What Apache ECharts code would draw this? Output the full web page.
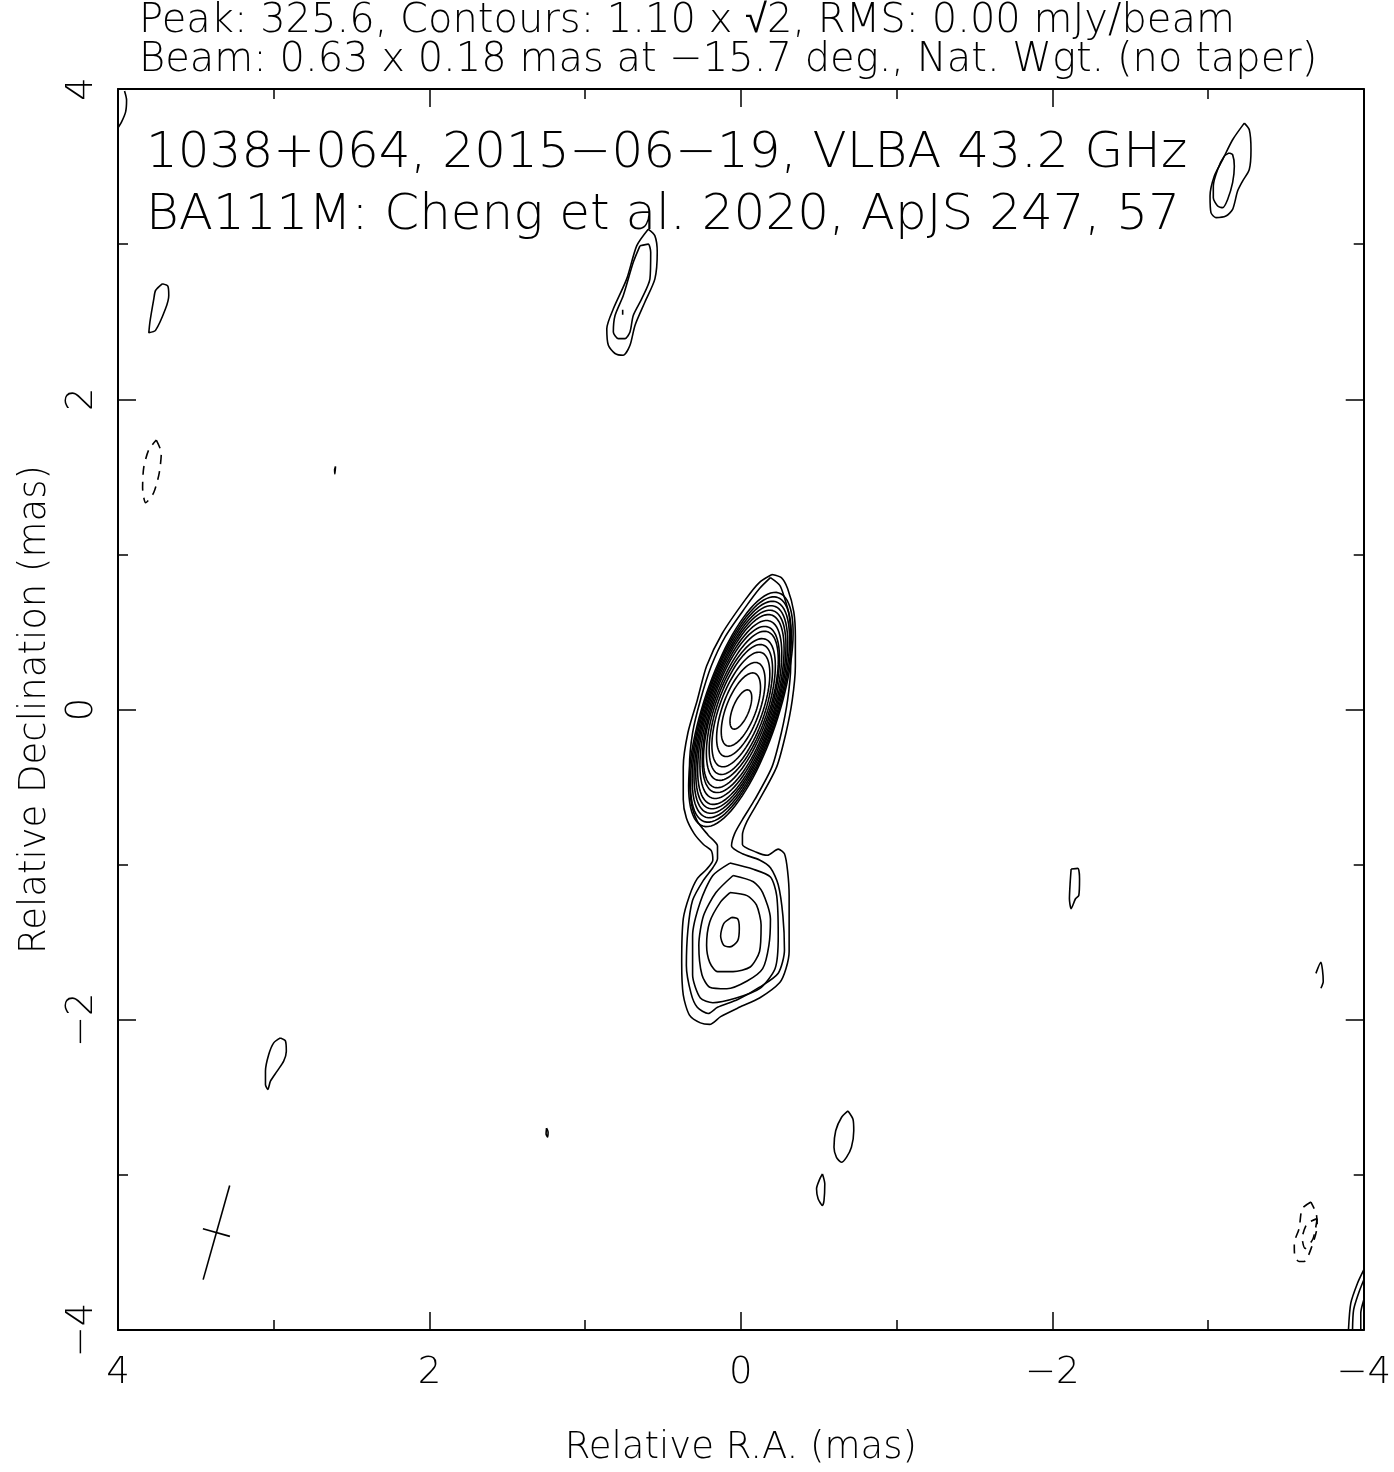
<!DOCTYPE html>
<html><head><meta charset="utf-8">
<script src="https://cdn.jsdelivr.net/npm/echarts@6/dist/echarts.min.js"></script>
<style>html,body{margin:0;padding:0;background:#fff}#c{width:1394px;height:1472px}</style>
</head><body><div id="c"></div>
<script>
// ---- data (mas) ----
const axisTicks = [4, 2, 0, -2, -4];
const headerLines = [
  'Peak: 325.6, Contours: 1.10 x \u221A2, RMS: 0.00 mJy/beam',
  'Beam: 0.63 x 0.18 mas at \u221215.7 deg., Nat. Wgt. (no taper)'
];
const labelLines = [
  '1038+064, 2015\u221206\u221219, VLBA 43.2 GHz',
  'BA111M: Cheng et al. 2020, ApJS 247, 57'
];
// beam: [centerRA, centerDec, major, minor, PA]
const beam = [[3.368, -3.372, 0.63, 0.18, -15.7]];
// nested closed rings of the core: [cx, cy, semiMajor, semiMinor, PA]
const coreRings = [
  [0, 0, 0.135, 0.052, -22],
  [0, 0, 0.25, 0.095, -21],
  [0, 0, 0.32, 0.118, -20],
  [0, 0, 0.39, 0.138, -20],
  [0, 0, 0.44, 0.153, -19],
  [0, 0, 0.48, 0.166, -19],
  [0, 0, 0.53, 0.177, -19],
  [0, 0, 0.56, 0.187, -18],
  [0, 0, 0.60, 0.196, -18],
  [0, 0, 0.64, 0.205, -18],
  [0, 0, 0.67, 0.213, -18],
  [0, 0, 0.70, 0.220, -18],
  [0, 0, 0.73, 0.228, -18],
  [0, 0, 0.76, 0.235, -18],
  [0, 0, 0.79, 0.242, -18]
];
// lowest two levels enclosing core + southern component
const mergedOuter = [[-0.20,0.87],[-0.26,0.85],[-0.30,0.78],[-0.34,0.63],[-0.35,0.47],[-0.35,0.28],[-0.33,0.06],[-0.29,-0.15],[-0.23,-0.37],[-0.12,-0.58],[-0.04,-0.72],[-0.01,-0.81],[-0.01,-0.87],[-0.10,-0.92],[-0.17,-0.94],[-0.24,-0.90],[-0.28,-0.93],[-0.30,-1.04],[-0.31,-1.20],[-0.31,-1.56],[-0.29,-1.67],[-0.25,-1.76],[-0.12,-1.86],[0.01,-1.92],[0.13,-1.98],[0.20,-2.03],[0.26,-2.02],[0.33,-1.97],[0.37,-1.84],[0.38,-1.63],[0.37,-1.35],[0.33,-1.20],[0.28,-1.09],[0.22,-1.03],[0.18,-0.97],[0.19,-0.91],[0.24,-0.87],[0.30,-0.80],[0.35,-0.70],[0.37,-0.58],[0.37,-0.37],[0.34,-0.15],[0.28,0.06],[0.22,0.28],[0.12,0.49],[-0.03,0.71],[-0.12,0.82],[-0.20,0.87]];
const mergedInner = [[-0.19,0.85],[-0.25,0.80],[-0.28,0.72],[-0.31,0.61],[-0.32,0.46],[-0.32,0.28],[-0.30,0.06],[-0.26,-0.15],[-0.20,-0.37],[-0.09,-0.58],[-0.01,-0.71],[0.04,-0.80],[0.06,-0.88],[-0.01,-0.93],[-0.12,-0.97],[-0.19,-1.02],[-0.24,-1.13],[-0.27,-1.33],[-0.28,-1.55],[-0.24,-1.70],[-0.12,-1.79],[0.02,-1.87],[0.15,-1.92],[0.21,-1.96],[0.28,-1.92],[0.32,-1.83],[0.35,-1.65],[0.34,-1.42],[0.31,-1.23],[0.24,-1.10],[0.18,-1.02],[0.15,-0.96],[0.15,-0.88],[0.21,-0.81],[0.28,-0.72],[0.32,-0.59],[0.33,-0.37],[0.31,-0.15],[0.26,0.06],[0.19,0.28],[0.10,0.47],[-0.03,0.66],[-0.12,0.78],[-0.19,0.85]];
// closed rings of the southern component
const southRing1 = [[0.07,-0.99],[-0.08,-1.03],[-0.19,-1.08],[-0.23,-1.20],[-0.24,-1.46],[-0.22,-1.67],[-0.12,-1.80],[0.03,-1.86],[0.18,-1.89],[0.26,-1.86],[0.31,-1.71],[0.31,-1.46],[0.26,-1.24],[0.18,-1.07],[0.07,-0.99]];
const southRing2 = [[0.05,-1.07],[-0.08,-1.11],[-0.14,-1.18],[-0.19,-1.35],[-0.18,-1.52],[-0.14,-1.67],[-0.04,-1.75],[0.09,-1.80],[0.20,-1.79],[0.25,-1.71],[0.27,-1.52],[0.24,-1.33],[0.16,-1.18],[0.05,-1.07]];
const southRing3 = [[0.07,-1.18],[-0.04,-1.20],[-0.10,-1.26],[-0.13,-1.39],[-0.12,-1.56],[-0.06,-1.66],[0.05,-1.69],[0.15,-1.69],[0.20,-1.63],[0.22,-1.52],[0.20,-1.37],[0.13,-1.24],[0.07,-1.18]];
const southRing4 = [[0.06,-1.34],[0.02,-1.35],[0.01,-1.41],[0.02,-1.49],[0.07,-1.53],[0.11,-1.52],[0.13,-1.46],[0.11,-1.38],[0.06,-1.34]];
// isolated positive contours
const cornerTopLeft = [[3.958,3.987],[3.945,3.929],[3.951,3.853],[3.977,3.788],[4.0,3.75]];
const blobLeft = [[3.716,2.744],[3.680,2.729],[3.674,2.669],[3.695,2.583],[3.759,2.444],[3.802,2.429],[3.795,2.498],[3.770,2.647],[3.759,2.701],[3.716,2.744]];
const tinyLeft = [[2.603,1.567],[2.607,1.519],[2.609,1.545],[2.603,1.567]];
const northOuter = [[0.595,3.096],[0.552,3.053],[0.537,2.947],[0.552,2.776],[0.616,2.627],[0.680,2.476],[0.712,2.348],[0.755,2.284],[0.808,2.295],[0.851,2.348],[0.861,2.455],[0.819,2.583],[0.733,2.776],[0.669,2.989],[0.595,3.096]];
const northInner = [[0.648,2.989],[0.595,3.0],[0.579,2.947],[0.584,2.776],[0.637,2.647],[0.691,2.540],[0.712,2.434],[0.744,2.391],[0.787,2.391],[0.819,2.434],[0.808,2.540],[0.755,2.669],[0.691,2.883],[0.648,2.989]];
const northDot = [[0.759,2.577],[0.759,2.545]];
const topRightOuter = [[-3.233,3.780],[-3.265,3.737],[-3.276,3.609],[-3.265,3.481],[-3.222,3.406],[-3.190,3.342],[-3.158,3.224],[-3.115,3.181],[-3.051,3.171],[-3.019,3.203],[-3.013,3.310],[-3.040,3.438],[-3.094,3.545],[-3.158,3.673],[-3.233,3.780]];
const topRightInner = [[-3.137,3.588],[-3.158,3.577],[-3.169,3.502],[-3.158,3.396],[-3.126,3.288],[-3.094,3.235],[-3.062,3.246],[-3.034,3.299],[-3.034,3.374],[-3.062,3.481],[-3.104,3.566],[-3.137,3.588]];
const blobLowLeft = [[2.957,-2.117],[2.925,-2.136],[2.919,-2.203],[2.936,-2.267],[2.978,-2.331],[3.021,-2.396],[3.038,-2.449],[3.053,-2.417],[3.053,-2.331],[3.032,-2.224],[3.0,-2.149],[2.957,-2.117]];
const tinyLow = [[1.248,-2.699],[1.238,-2.724],[1.241,-2.756],[1.251,-2.737],[1.248,-2.699]];
const blobLowMid = [[-0.688,-2.588],[-0.720,-2.641],[-0.725,-2.716],[-0.710,-2.822],[-0.678,-2.887],[-0.646,-2.919],[-0.614,-2.887],[-0.598,-2.822],[-0.609,-2.716],[-0.646,-2.630],[-0.688,-2.588]];
const smallLowMid = [[-0.524,-2.994],[-0.539,-3.058],[-0.534,-3.165],[-0.524,-3.197],[-0.496,-3.154],[-0.486,-3.090],[-0.507,-3.026],[-0.524,-2.994]];
const blobRight = [[-2.121,-1.028],[-2.164,-1.024],[-2.175,-1.092],[-2.170,-1.199],[-2.149,-1.220],[-2.121,-1.284],[-2.110,-1.220],[-2.115,-1.113],[-2.121,-1.028]];
const hookRight = [[-3.693,-1.701],[-3.725,-1.630],[-3.735,-1.679],[-3.740,-1.754],[-3.725,-1.797]];
const cornerBR1 = [[-4.0,-3.613],[-3.960,-3.699],[-3.917,-3.827],[-3.902,-3.998]];
const cornerBR2 = [[-4.0,-3.678],[-3.967,-3.763],[-3.935,-3.870],[-3.928,-3.998]];
const cornerBR3 = [[-4.0,-3.806],[-3.981,-3.891],[-3.981,-3.998]];
// negative (dashed) contours
const negLeft = [[3.754,1.737],[3.722,1.654],[3.735,1.526],[3.771,1.397],[3.822,1.333],[3.842,1.429],[3.835,1.558],[3.803,1.673],[3.754,1.737]];
const negRightOuter = [[-3.661,-3.175],[-3.605,-3.218],[-3.585,-3.346],[-3.554,-3.442],[-3.557,-3.526],[-3.585,-3.558],[-3.618,-3.558],[-3.669,-3.455],[-3.701,-3.327],[-3.695,-3.250],[-3.661,-3.175]];
const negRightInner = [[-3.701,-3.282],[-3.675,-3.410],[-3.624,-3.474],[-3.605,-3.410],[-3.637,-3.314],[-3.701,-3.282]];

const positiveLines = [mergedOuter, mergedInner, southRing1, southRing2, southRing3, southRing4,
  cornerTopLeft, blobLeft, tinyLeft, northOuter, northInner, northDot, topRightOuter, topRightInner,
  blobLowLeft, tinyLow, blobLowMid, smallLowMid, blobRight, hookRight, cornerBR1, cornerBR2, cornerBR3];
const negativeLines = [negLeft, negRightOuter, negRightInner];

// ---- chart ----
const FONT = "'DejaVu Sans', sans-serif";
const INK = '#000';
const fmt = v => String(v).replace('-', '\u2212');
const LW = 1.6;

function lineSeries(data, dashed) {
  return {
    type: 'line', data: data, xAxisIndex: 0, yAxisIndex: 0,
    showSymbol: false, symbol: 'none', smooth: 0.25, silent: true, animation: false, clip: true,
    lineStyle: { color: INK, width: LW, type: dashed ? [9, 7] : 'solid' }, z: 3
  };
}

function axisCommon(pos, labels, isY) {
  return {
    type: 'value', position: pos, min: -4, max: 4, interval: 2,
    inverse: !isY,
    axisLine: { show: true, onZero: false, lineStyle: { color: INK, width: 2 } },
    axisTick: { show: true, inside: true, length: 18, lineStyle: { color: INK, width: 1.5 } },
    minorTick: { show: true, splitNumber: 2, length: 10, lineStyle: { color: INK, width: 1.5 } },
    splitLine: { show: false }, minorSplitLine: { show: false },
    axisLabel: labels ? {
      show: true, formatter: fmt, color: INK, fontFamily: FONT, fontWeight: 300, fontSize: 37,
      margin: isY ? 17 : 25, rotate: isY ? 90 : 0
    } : { show: false }
  };
}

const xBottom = axisCommon('bottom', true, false);
xBottom.name = 'Relative R.A. (mas)';
xBottom.nameLocation = 'middle';
xBottom.nameGap = 100;
xBottom.nameTextStyle = { fontFamily: FONT, fontWeight: 300, fontSize: 37, color: INK };
const yLeft = axisCommon('left', true, true);
yLeft.name = 'Relative Declination (mas)';
yLeft.nameLocation = 'middle';
yLeft.nameGap = 64;
yLeft.nameTextStyle = { fontFamily: FONT, fontWeight: 300, fontSize: 37, color: INK };

const series = [];
series.push({
  type: 'custom', data: coreRings, xAxisIndex: 0, yAxisIndex: 0, silent: true, animation: false, clip: true, z: 3,
  renderItem: function (params, api) {
    const cx = api.value(0), cy = api.value(1), a = api.value(2), b = api.value(3), pa = api.value(4) * Math.PI / 180;
    const ux = Math.sin(pa), uy = Math.cos(pa), vx = Math.cos(pa), vy = -Math.sin(pa);
    const pts = [];
    for (let k = 0; k <= 90; k++) {
      const t = k / 90 * 2 * Math.PI;
      pts.push(api.coord([cx + a * Math.cos(t) * ux + b * Math.sin(t) * vx, cy + a * Math.cos(t) * uy + b * Math.sin(t) * vy]));
    }
    return { type: 'polyline', shape: { points: pts }, style: { stroke: INK, lineWidth: LW, fill: null } };
  }
});
series.push({
  type: 'custom', data: beam, xAxisIndex: 0, yAxisIndex: 0, silent: true, animation: false, z: 3,
  renderItem: function (params, api) {
    const cx = api.value(0), cy = api.value(1), ma = api.value(2) / 2, mi = api.value(3) / 2, pa = api.value(4) * Math.PI / 180;
    const ux = Math.sin(pa), uy = Math.cos(pa), vx = Math.cos(pa), vy = -Math.sin(pa);
    const p1 = api.coord([cx + ma * ux, cy + ma * uy]), p2 = api.coord([cx - ma * ux, cy - ma * uy]);
    const q1 = api.coord([cx + mi * vx, cy + mi * vy]), q2 = api.coord([cx - mi * vx, cy - mi * vy]);
    return { type: 'group', children: [
      { type: 'line', shape: { x1: p1[0], y1: p1[1], x2: p2[0], y2: p2[1] }, style: { stroke: INK, lineWidth: LW } },
      { type: 'line', shape: { x1: q1[0], y1: q1[1], x2: q2[0], y2: q2[1] }, style: { stroke: INK, lineWidth: LW } }
    ] };
  }
});
positiveLines.forEach(d => series.push(lineSeries(d, false)));
negativeLines.forEach(d => series.push(lineSeries(d, true)));

const HF = "300 40px 'DejaVu Sans', sans-serif";
const BF = "300 50px 'DejaVu Sans', sans-serif";
const chart = echarts.init(document.getElementById('c'), null, { renderer: 'canvas' });
chart.setOption({
  backgroundColor: '#fff',
  animation: false,
  grid: { left: 118, top: 89, width: 1247, height: 1248, containLabel: false },
  xAxis: [xBottom, axisCommon('top', false, false)],
  yAxis: [yLeft, axisCommon('right', false, true)],
  graphic: [
    { type: 'text', left: 139, top: 2, style: { text: headerLines[0], font: HF, fill: INK } },
    { type: 'text', left: 139, top: 41, style: { text: headerLines[1], font: HF, fill: INK } },
    { type: 'text', left: 146, top: 129, style: { text: labelLines[0], font: BF, fill: INK } },
    { type: 'text', left: 146, top: 191, style: { text: labelLines[1], font: BF, fill: INK } }
  ],
  series: series
});
</script></body></html>
